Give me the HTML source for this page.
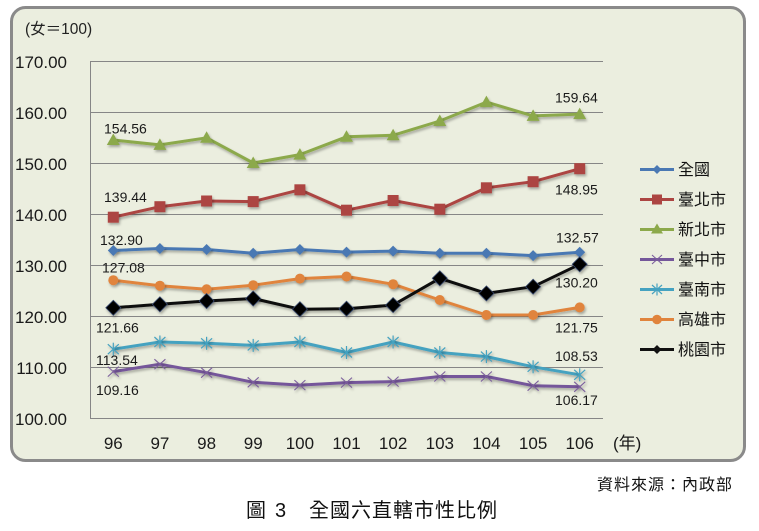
<!DOCTYPE html>
<html>
<head>
<meta charset="utf-8">
<style>
html,body{margin:0;padding:0;background:#fff;}
svg{display:block;}
text{font-family:"Liberation Sans","Noto Sans CJK TC",sans-serif;}
</style>
</head>
<body>
<svg width="759" height="531" viewBox="0 0 759 531" xmlns="http://www.w3.org/2000/svg">
<defs>
<filter id="sh" x="-10%" y="-10%" width="120%" height="130%">
<feDropShadow dx="1.2" dy="2" stdDeviation="1.2" flood-color="#000" flood-opacity="0.3"/>
</filter>
<polygon id="dB" points="0,-5.5 5.5,0 0,5.5 -5.5,0" fill="#4A78B3"/>
<rect id="sR" x="-5.5" y="-5.5" width="11" height="11" fill="#AC4542"/>
<polygon id="tG" points="0,-6.5 6.5,5 -6.5,5" fill="#8CA94B"/>
<g id="xP" stroke="#7B5E9C" stroke-width="1.1"><line x1="-5.5" y1="-5" x2="5.5" y2="5"/><line x1="-5.5" y1="5" x2="5.5" y2="-5"/></g>
<g id="aT" stroke="#45A2C0" stroke-width="1.2"><line x1="-5.5" y1="-5" x2="5.5" y2="5"/><line x1="-5.5" y1="5" x2="5.5" y2="-5"/><line x1="0" y1="-6.5" x2="0" y2="6.5"/></g>
<circle id="cO" r="5" fill="#E0843D"/>
<polygon id="dK" points="0,-7.5 7.5,0 0,7.5 -7.5,0" fill="#000" stroke="#34456a" stroke-width="0.8"/>
</defs>

<!-- chart box -->
<rect x="11.5" y="7.5" width="733" height="453" rx="14" ry="14" fill="#EBEEDF" stroke="#8A8A8A" stroke-width="3"/>

<!-- grid -->
<g stroke="#868686" stroke-width="1">
<line x1="90" y1="61.5" x2="603" y2="61.5"/>
<line x1="90" y1="112.5" x2="603" y2="112.5"/>
<line x1="90" y1="163.5" x2="603" y2="163.5"/>
<line x1="90" y1="214.5" x2="603" y2="214.5"/>
<line x1="90" y1="265.5" x2="603" y2="265.5"/>
<line x1="90" y1="316.5" x2="603" y2="316.5"/>
<line x1="90" y1="367.5" x2="603" y2="367.5"/>
<line x1="90" y1="418.5" x2="603" y2="418.5"/>
<line x1="90.5" y1="61" x2="90.5" y2="419"/>
</g>

<!-- y labels -->
<g font-size="17" fill="#1a1a1a" text-anchor="end">
<text x="67" y="68">170.00</text>
<text x="67" y="119">160.00</text>
<text x="67" y="170">150.00</text>
<text x="67" y="221">140.00</text>
<text x="67" y="272">130.00</text>
<text x="67" y="323">120.00</text>
<text x="67" y="374">110.00</text>
<text x="67" y="425">100.00</text>
</g>
<text x="25" y="34" font-size="15.5" fill="#222">(女＝100)</text>

<!-- x labels -->
<g font-size="17" fill="#1a1a1a" text-anchor="middle">
<text x="113.3" y="449">96</text>
<text x="159.9" y="449">97</text>
<text x="206.6" y="449">98</text>
<text x="253.2" y="449">99</text>
<text x="299.9" y="449">100</text>
<text x="346.5" y="449">101</text>
<text x="393.1" y="449">102</text>
<text x="439.8" y="449">103</text>
<text x="486.4" y="449">104</text>
<text x="533.1" y="449">105</text>
<text x="579.7" y="449">106</text>
</g>
<text x="613" y="449" font-size="17" fill="#1a1a1a">(年)</text>

<!-- series -->
<g filter="url(#sh)" fill="none" stroke-width="3" stroke-linejoin="round">
<!-- 全國 -->
<polyline stroke="#4A78B3" points="113.3,250.5 159.9,248.5 206.6,249.5 253.2,253.3 299.9,249.5 346.5,252.1 393.1,251.1 439.8,253.3 486.4,253.3 533.1,255.6 579.7,252.2"/>
<!-- 臺北市 -->
<polyline stroke="#AC4542" points="113.3,217.2 159.9,206.7 206.6,201.0 253.2,201.6 299.9,189.8 346.5,210.2 393.1,200.5 439.8,209.2 486.4,187.8 533.1,181.7 579.7,168.7"/>
<!-- 新北市 -->
<polyline stroke="#8CA94B" points="113.3,140.0 159.9,144.9 206.6,137.8 253.2,163.0 299.9,154.6 346.5,136.8 393.1,135.3 439.8,121.0 486.4,102.1 533.1,115.9 579.7,114.1"/>
<!-- 臺中市 -->
<polyline stroke="#74579A" points="113.3,371.6 159.9,364.2 206.6,372.7 253.2,382.3 299.9,385.1 346.5,382.6 393.1,381.6 439.8,376.5 486.4,376.5 533.1,385.7 579.7,386.8"/>
<!-- 臺南市 -->
<polyline stroke="#45A2C0" points="113.3,349.2 159.9,342.0 206.6,343.3 253.2,345.4 299.9,342.0 346.5,352.5 393.1,342.0 439.8,352.5 486.4,356.6 533.1,366.8 579.7,374.8"/>
<!-- 高雄市 -->
<polyline stroke="#E0843D" points="113.3,280.2 159.9,285.7 206.6,289.3 253.2,285.2 299.9,278.6 346.5,276.5 393.1,284.2 439.8,300.0 486.4,315.0 533.1,315.0 579.7,307.4"/>
<!-- 桃園市 -->
<polyline stroke="#111" points="113.3,307.8 159.9,304.3 206.6,301.0 253.2,298.5 299.9,309.2 346.5,308.7 393.1,305.1 439.8,278.3 486.4,293.4 533.1,286.7 579.7,264.3"/>
</g>

<g filter="url(#sh)">
<use href="#dB" x="113.3" y="250.5"/><use href="#dB" x="159.9" y="248.5"/><use href="#dB" x="206.6" y="249.5"/><use href="#dB" x="253.2" y="253.3"/><use href="#dB" x="299.9" y="249.5"/><use href="#dB" x="346.5" y="252.1"/><use href="#dB" x="393.1" y="251.1"/><use href="#dB" x="439.8" y="253.3"/><use href="#dB" x="486.4" y="253.3"/><use href="#dB" x="533.1" y="255.6"/><use href="#dB" x="579.7" y="252.2"/>

<use href="#sR" x="113.3" y="217.2"/><use href="#sR" x="159.9" y="206.7"/><use href="#sR" x="206.6" y="201.0"/><use href="#sR" x="253.2" y="201.6"/><use href="#sR" x="299.9" y="189.8"/><use href="#sR" x="346.5" y="210.2"/><use href="#sR" x="393.1" y="200.5"/><use href="#sR" x="439.8" y="209.2"/><use href="#sR" x="486.4" y="187.8"/><use href="#sR" x="533.1" y="181.7"/><use href="#sR" x="579.7" y="168.7"/>

<use href="#tG" x="113.3" y="140.0"/><use href="#tG" x="159.9" y="144.9"/><use href="#tG" x="206.6" y="137.8"/><use href="#tG" x="253.2" y="163.0"/><use href="#tG" x="299.9" y="154.6"/><use href="#tG" x="346.5" y="136.8"/><use href="#tG" x="393.1" y="135.3"/><use href="#tG" x="439.8" y="121.0"/><use href="#tG" x="486.4" y="102.1"/><use href="#tG" x="533.1" y="115.9"/><use href="#tG" x="579.7" y="114.1"/>

<use href="#xP" x="113.3" y="371.6"/><use href="#xP" x="159.9" y="364.2"/><use href="#xP" x="206.6" y="372.7"/><use href="#xP" x="253.2" y="382.3"/><use href="#xP" x="299.9" y="385.1"/><use href="#xP" x="346.5" y="382.6"/><use href="#xP" x="393.1" y="381.6"/><use href="#xP" x="439.8" y="376.5"/><use href="#xP" x="486.4" y="376.5"/><use href="#xP" x="533.1" y="385.7"/><use href="#xP" x="579.7" y="386.8"/>

<use href="#aT" x="113.3" y="349.2"/><use href="#aT" x="159.9" y="342.0"/><use href="#aT" x="206.6" y="343.3"/><use href="#aT" x="253.2" y="345.4"/><use href="#aT" x="299.9" y="342.0"/><use href="#aT" x="346.5" y="352.5"/><use href="#aT" x="393.1" y="342.0"/><use href="#aT" x="439.8" y="352.5"/><use href="#aT" x="486.4" y="356.6"/><use href="#aT" x="533.1" y="366.8"/><use href="#aT" x="579.7" y="374.8"/>

<use href="#cO" x="113.3" y="280.2"/><use href="#cO" x="159.9" y="285.7"/><use href="#cO" x="206.6" y="289.3"/><use href="#cO" x="253.2" y="285.2"/><use href="#cO" x="299.9" y="278.6"/><use href="#cO" x="346.5" y="276.5"/><use href="#cO" x="393.1" y="284.2"/><use href="#cO" x="439.8" y="300.0"/><use href="#cO" x="486.4" y="315.0"/><use href="#cO" x="533.1" y="315.0"/><use href="#cO" x="579.7" y="307.4"/>

<use href="#dK" x="113.3" y="307.8"/><use href="#dK" x="159.9" y="304.3"/><use href="#dK" x="206.6" y="301.0"/><use href="#dK" x="253.2" y="298.5"/><use href="#dK" x="299.9" y="309.2"/><use href="#dK" x="346.5" y="308.7"/><use href="#dK" x="393.1" y="305.1"/><use href="#dK" x="439.8" y="278.3"/><use href="#dK" x="486.4" y="293.4"/><use href="#dK" x="533.1" y="286.7"/><use href="#dK" x="579.7" y="264.3"/>
</g>

<!-- data labels -->
<g font-size="14" fill="#1a1a1a">
<text x="104" y="133.5">154.56</text>
<text x="104" y="201.8">139.44</text>
<text x="100" y="245">132.90</text>
<text x="102" y="272.3">127.08</text>
<text x="96" y="332.3">121.66</text>
<text x="96" y="365">113.54</text>
<text x="96" y="395">109.16</text>
<text x="555" y="102.3">159.64</text>
<text x="555" y="194.3">148.95</text>
<text x="556" y="242.7">132.57</text>
<text x="555" y="287.3">130.20</text>
<text x="555" y="332.3">121.75</text>
<text x="555" y="361">108.53</text>
<text x="555" y="405">106.17</text>
</g>

<!-- legend -->
<g stroke-width="3">
<line x1="640" y1="169.5" x2="674" y2="169.5" stroke="#4A78B3"/>
<line x1="640" y1="199.5" x2="674" y2="199.5" stroke="#AC4542"/>
<line x1="640" y1="229.5" x2="674" y2="229.5" stroke="#8CA94B"/>
<line x1="640" y1="259.5" x2="674" y2="259.5" stroke="#74579A"/>
<line x1="640" y1="289.5" x2="674" y2="289.5" stroke="#45A2C0"/>
<line x1="640" y1="319.5" x2="674" y2="319.5" stroke="#E0843D"/>
<line x1="640" y1="349.5" x2="674" y2="349.5" stroke="#111"/>
</g>
<polygon points="657,165 661.5,169.5 657,174 652.5,169.5" fill="#4A78B3"/>
<rect x="652" y="194.5" width="10" height="10" fill="#AC4542"/>
<polygon points="657,223.5 663,233.5 651,233.5" fill="#8CA94B"/>
<g stroke="#7B5E9C" stroke-width="1.1"><line x1="652" y1="255" x2="662" y2="264"/><line x1="652" y1="264" x2="662" y2="255"/></g>
<g stroke="#45A2C0" stroke-width="1.2"><line x1="652" y1="285" x2="662" y2="294"/><line x1="652" y1="294" x2="662" y2="285"/><line x1="657" y1="283.5" x2="657" y2="295.5"/></g>
<circle cx="657" cy="319.5" r="4.8" fill="#E0843D"/>
<polygon points="657,345 661.5,349.5 657,354 652.5,349.5" fill="#111"/>
<g font-size="16" fill="#111">
<text x="678" y="175">全國</text>
<text x="678" y="205">臺北市</text>
<text x="678" y="235">新北市</text>
<text x="678" y="265">臺中市</text>
<text x="678" y="295">臺南市</text>
<text x="678" y="325">高雄市</text>
<text x="678" y="355">桃園市</text>
</g>

<!-- captions -->
<text x="597" y="490" font-size="16" fill="#111" textLength="135" lengthAdjust="spacing">資料來源：內政部</text>
<text x="246" y="517" font-size="20" fill="#111">圖</text>
<text x="275" y="517" font-size="20" fill="#111">3</text>
<text x="309" y="517" font-size="20" fill="#111" textLength="188" lengthAdjust="spacing">全國六直轄市性比例</text>
</svg>
</body>
</html>
